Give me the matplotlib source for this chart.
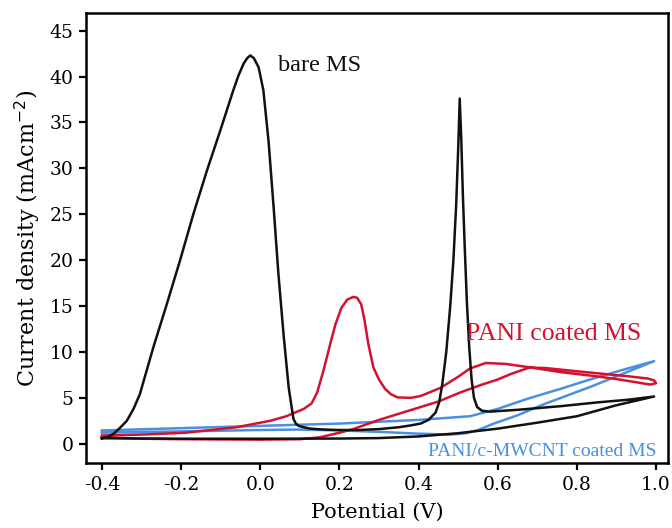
import matplotlib
matplotlib.use('Agg')
import matplotlib.pyplot as plt

plt.rcParams['axes.unicode_minus'] = False
plt.rcParams['font.family'] = ['DejaVu Serif']

# bare MS (potential V, current density mA/cm2)
bare_v = [-0.40, -0.385, -0.37, -0.355, -0.337, -0.32, -0.304, -0.27, -0.236, -0.203,
          -0.169, -0.135, -0.101, -0.068, -0.055, -0.042, -0.033, -0.025, -0.016, -0.004,
          0.008, 0.021, 0.034, 0.046, 0.059, 0.072, 0.084, 0.09, 0.097,
          0.11, 0.127, 0.16, 0.2, 0.25, 0.3, 0.35, 0.38, 0.405, 0.425, 0.443, 0.452,
          0.46, 0.47, 0.48, 0.488, 0.495, 0.5, 0.504, 0.508, 0.512, 0.517, 0.522,
          0.528, 0.534, 0.54, 0.548, 0.56, 0.58, 0.65, 0.76, 0.85, 0.93, 0.995,
          0.9, 0.8, 0.7, 0.6, 0.5, 0.4, 0.3, 0.2, 0.0, -0.2, -0.40]
bare_j = [0.6, 0.75, 1.1, 1.7, 2.5, 3.8, 5.4, 10.5, 15.2, 19.9,
          25.0, 29.7, 34.1, 38.5, 40.1, 41.4, 42.0, 42.3, 42.0, 41.0,
          38.5, 33.0, 25.7, 18.5, 11.9, 6.1, 2.7, 2.2, 1.95,
          1.8, 1.65, 1.55, 1.5, 1.5, 1.6, 1.8, 2.0, 2.2, 2.6, 3.4, 4.5,
          6.5, 10.0, 15.0, 20.0, 26.0, 32.0, 37.6, 33.0, 27.0, 21.0, 15.5,
          10.5, 7.0, 5.0, 4.0, 3.6, 3.5, 3.7, 4.1, 4.5, 4.8, 5.15,
          4.2, 3.0, 2.3, 1.65, 1.15, 0.8, 0.62, 0.57, 0.55, 0.55, 0.6]

# PANI coated MS
pani_v = [-0.40, -0.30, -0.19, -0.06, 0.025, 0.066, 0.11, 0.13, 0.144, 0.16, 0.177,
          0.19, 0.205, 0.22, 0.235, 0.245, 0.255, 0.263, 0.273, 0.286, 0.30, 0.315,
          0.33, 0.347, 0.38, 0.405, 0.456, 0.50, 0.53, 0.57, 0.62, 0.70, 0.76, 0.84,
          0.90, 0.95, 0.985, 1.0, 0.995, 0.98, 0.93, 0.87, 0.80, 0.72, 0.68, 0.633,
          0.60, 0.557, 0.506, 0.45, 0.36, 0.30, 0.235, 0.20, 0.15, 0.10, 0.0, -0.2,
          -0.3, -0.40]
pani_j = [0.9, 1.0, 1.2, 1.8, 2.5, 3.0, 3.8, 4.4, 5.6, 8.0, 10.9,
          13.0, 14.8, 15.7, 16.0, 15.9, 15.2, 13.6, 10.9, 8.3, 7.0, 6.0,
          5.4, 5.05, 5.0, 5.2, 6.1, 7.3, 8.2, 8.8, 8.7, 8.2, 7.8, 7.4,
          7.05, 6.7, 6.45, 6.6, 6.9, 7.1, 7.35, 7.6, 7.9, 8.25, 8.3, 7.6,
          7.0, 6.4, 5.6, 4.6, 3.4, 2.6, 1.6, 1.2, 0.7, 0.5, 0.45, 0.5,
          0.55, 0.7]

# PANI/c-MWCNT coated MS
cnt_v = [-0.40, -0.20, 0.0, 0.2, 0.4, 0.53, 0.6, 0.675, 0.76, 0.84, 0.92, 0.995,
         0.9, 0.84, 0.716, 0.65, 0.59, 0.55, 0.52, 0.48, 0.4, 0.3, 0.2, 0.1, 0.0,
         -0.2, -0.40]
cnt_j = [1.45, 1.7, 1.95, 2.2, 2.6, 3.0, 3.8, 4.9, 6.0, 7.1, 8.1, 9.0,
         7.35, 6.3, 4.3, 3.1, 2.2, 1.5, 1.15, 1.0, 1.1, 1.3, 1.45, 1.55, 1.5,
         1.35, 1.2]

black = '#111111'
red = '#d3122f'
blue = '#4a8fe0'

fig = plt.figure(figsize=(6.72, 5.28), dpi=100)
ax = fig.add_axes([0.128, 0.123, 0.866, 0.852])

ax.plot(cnt_v, cnt_j, color=blue, lw=1.8)
ax.plot(pani_v, pani_j, color=red, lw=1.8)
ax.plot(bare_v, bare_j, color=black, lw=1.8)

ax.set_xlim(-0.44, 1.03)
ax.set_ylim(-2.1, 46.9)
ax.set_xticks([-0.4, -0.2, 0.0, 0.2, 0.4, 0.6, 0.8, 1.0])
ax.set_xticklabels(['-0.4', '-0.2', '0.0', '0.2', '0.4', '0.6', '0.8', '1.0'])
ax.set_yticks(range(0, 50, 5))
ax.tick_params(direction='out', length=5, width=1.6, labelsize=13.5, pad=4)
for s in ax.spines.values():
    s.set_linewidth(1.8)

ax.set_xlabel('Potential (V)', fontsize=15, labelpad=7)
ax.set_ylabel('Current density (mAcm$^{-2}$)', fontsize=16, labelpad=5)

ax.text(0.046, 41.2, 'bare MS', color=black, fontsize=17.5,
        family='Liberation Serif', va='center', ha='left')
ax.text(0.52, 12.0, 'PANI coated MS', color=red, fontsize=18.5,
        family='Liberation Serif', va='center', ha='left')
ax.text(1.0, -0.8, 'PANI/c-MWCNT coated MS', color=blue, fontsize=14,
        family='Liberation Serif', va='center', ha='right')

fig.savefig('out.png', dpi=100)
